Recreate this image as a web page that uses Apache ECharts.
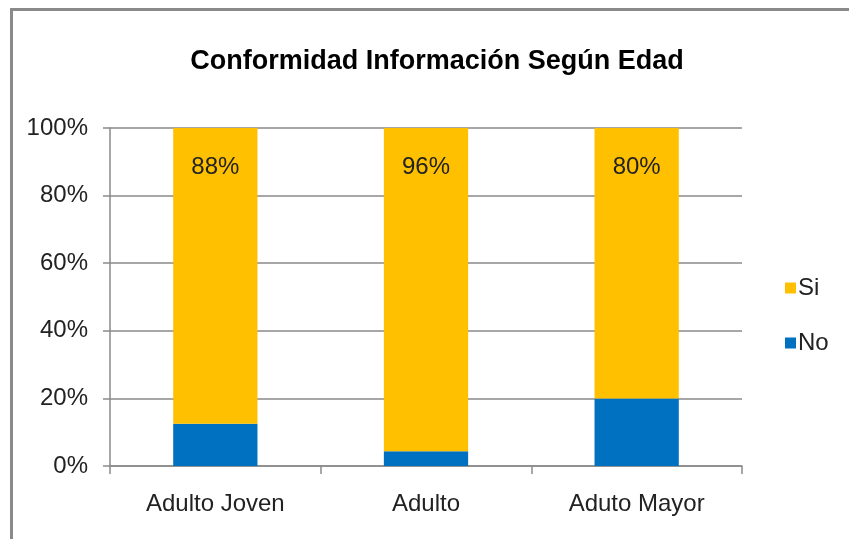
<!DOCTYPE html>
<html>
<head>
<meta charset="utf-8">
<script src="https://cdn.jsdelivr.net/npm/echarts@6/dist/echarts.min.js"></script>
<style>
  html, body { margin: 0; padding: 0; background: #fff; }
  #frame {
    position: absolute; left: 10px; top: 8px; width: 860px; height: 560px;
    border-left: 3px solid #8a8a8a; border-top: 3px solid #8a8a8a;
  }
  #chart { position: absolute; left: 0; top: 0; width: 849px; height: 539px; }
</style>
</head>
<body>
<div id="frame"></div>
<div id="chart"></div>
<script>
const categories = ['Adulto Joven', 'Adulto', 'Aduto Mayor'];
const siValues = [87.5, 95.6, 80];
const noValues = [12.5, 4.4, 20];
const yTicks = [0, 20, 40, 60, 80, 100];

const chartDom = document.getElementById('chart');
const myChart = echarts.init(chartDom);
const font = "'Liberation Sans Narrow', 'Arial Narrow', 'Liberation Sans', sans-serif";
const axisGray = '#8a8a8a';

const option = {
    animation: false,
    title: {
        text: 'Conformidad Información Según Edad',
        left: 432,
        textAlign: 'center',
        top: 43,
        textStyle: { fontFamily: font, fontWeight: 'bold', fontSize: 27, color: '#000' }
    },
    legend: {
        orient: 'vertical',
        left: 780,
        top: 271,
        itemGap: 31,
        itemWidth: 11,
        itemHeight: 11,
        icon: 'rect',
        data: ['Si', 'No'],
        textStyle: { fontFamily: font, fontSize: 24, color: '#222', padding: [0, 0, 0, -3] }
    },
    grid: { left: 110, right: 107, top: 128, bottom: 73 },
    xAxis: {
        type: 'category',
        data: categories,
        axisLine: { lineStyle: { color: axisGray, width: 1.5 } },
        axisTick: { show: true, length: 8, lineStyle: { color: axisGray, width: 1.5 } },
        axisLabel: { fontFamily: font, fontSize: 24, color: '#222', margin: 26 }
    },
    yAxis: {
        type: 'value',
        min: yTicks[0],
        max: yTicks[yTicks.length - 1],
        interval: yTicks[1] - yTicks[0],
        axisLine: { show: true, lineStyle: { color: axisGray, width: 1.5 } },
        axisTick: { show: true, length: 7, lineStyle: { color: axisGray, width: 1.5 } },
        splitLine: { lineStyle: { color: axisGray, width: 1.5 } },
        axisLabel: { fontFamily: font, fontSize: 24, color: '#222', margin: 22, formatter: '{value}%' }
    },
    series: [
        {
            name: 'No',
            type: 'bar',
            stack: 'total',
            barWidth: '40%',
            itemStyle: { color: '#0070C0' },
            data: noValues
        },
        {
            name: 'Si',
            type: 'bar',
            stack: 'total',
            barWidth: '40%',
            itemStyle: { color: '#FFC000' },
            label: {
                show: true,
                position: 'insideTop',
                distance: 27,
                fontFamily: font,
                fontSize: 24,
                color: '#222',
                formatter: (p) => Math.round(p.value) + '%'
            },
            data: siValues
        }
    ]
};

myChart.setOption(option);
</script>
</body>
</html>
